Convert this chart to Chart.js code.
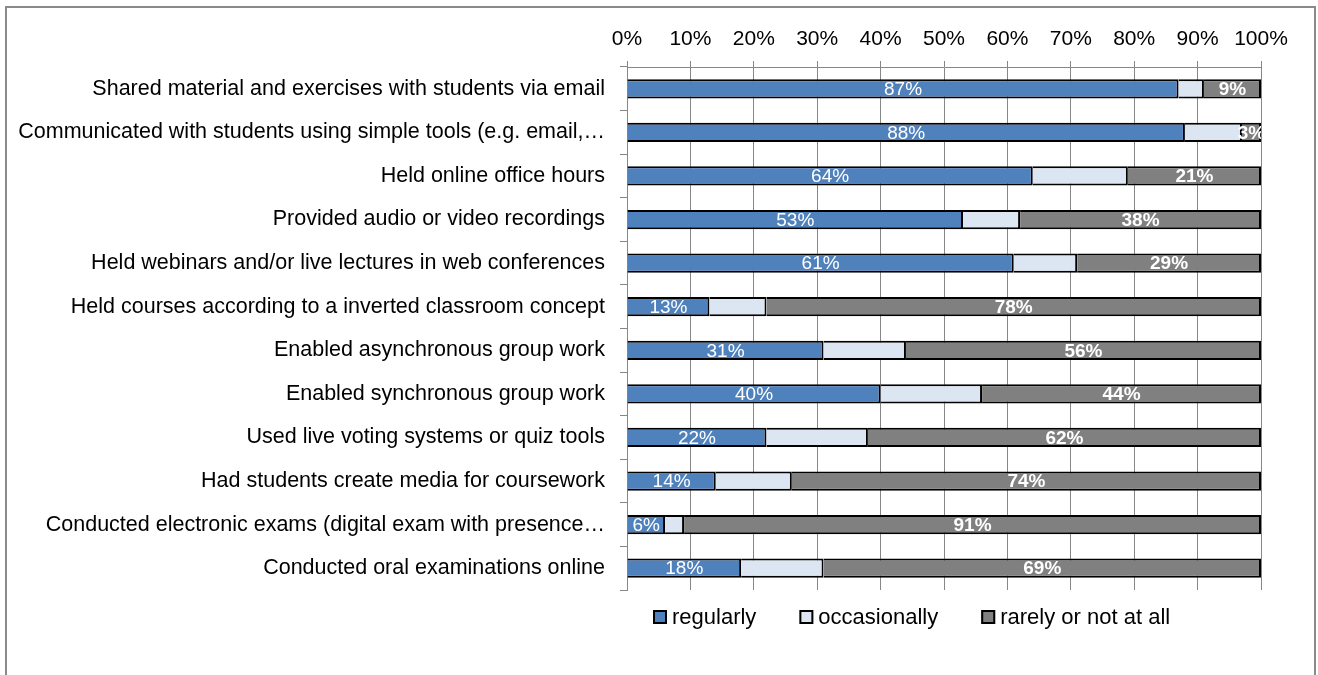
<!DOCTYPE html>
<html>
<head>
<meta charset="utf-8">
<script src="https://cdn.jsdelivr.net/npm/chart.js@4.4.1/dist/chart.umd.min.js"></script>
<style>
  html, body { margin: 0; padding: 0; background: #fff; overflow: hidden; }
  #frame {
    position: absolute; left: 5px; top: 6px; width: 1311px; height: 700px;
    box-sizing: border-box; border: 2px solid #8a8a8a; pointer-events: none;
  }
  #chart { position: absolute; left: 0; top: 0; }
</style>
</head>
<body>
<canvas id="chart" width="1318" height="675"></canvas>
<div id="frame"></div>
<script>
// Survey items (top to bottom)
const categories = [
    'Shared material and exercises with students via email',
    'Communicated with students using simple tools (e.g. email,\u2026',
    'Held online office hours',
    'Provided audio or video recordings',
    'Held webinars and/or live lectures in web conferences',
    'Held courses according to a inverted classroom concept',
    'Enabled asynchronous group work',
    'Enabled synchronous group work',
    'Used live voting systems or quiz tools',
    'Had students create media for coursework',
    'Conducted electronic exams (digital exam with presence\u2026',
    'Conducted oral examinations online'
];

// Shares in percent
const regularly    = [87, 88, 64, 53, 61, 13, 31, 40, 22, 14, 6, 18];
const occasionally = [4, 9, 15, 9, 10, 9, 13, 16, 16, 12, 3, 13];
const rarely       = [9, 3, 21, 38, 29, 78, 56, 44, 62, 74, 91, 69];

const seriesNames = ['regularly', 'occasionally', 'rarely or not at all'];
const xTicks = [0, 10, 20, 30, 40, 50, 60, 70, 80, 90, 100];

const FONT = 'Liberation Sans, Arial, sans-serif';
const gridColor = '#878787';

// % labels inside the blue and grey segments
const segmentLabels = {
    id: 'segmentLabels',
    afterDatasetsDraw(chart) {
        const ctx = chart.ctx;
        const area = chart.chartArea;
        ctx.save();
        ctx.beginPath();
        ctx.rect(area.left, area.top, area.right - area.left, area.bottom - area.top);
        ctx.clip();
        ctx.fillStyle = '#ffffff';
        ctx.textAlign = 'center';
        ctx.textBaseline = 'middle';
        [0, 2].forEach(di => {
            const meta = chart.getDatasetMeta(di);
            ctx.font = (di === 2 ? 'bold ' : '') + '19px ' + FONT;
            meta.data.forEach((bar, i) => {
                const v = chart.data.datasets[di].data[i];
                const cx = (bar.x + bar.base) / 2;
                ctx.fillText(v + '%', cx, bar.y + 1);
            });
        });
        ctx.restore();
    }
};

// legend under the plot, Excel-like spacing
const bottomLegend = {
    id: 'bottomLegend',
    afterDraw(chart) {
        const ctx = chart.ctx;
        const y = chart.chartArea.bottom + 27;
        let x = chart.chartArea.left + 26;
        ctx.save();
        ctx.font = '22px ' + FONT;
        ctx.textBaseline = 'middle';
        ctx.textAlign = 'left';
        chart.data.datasets.forEach(ds => {
            ctx.fillStyle = ds.backgroundColor;
            ctx.fillRect(x, y - 7, 14, 14);
            ctx.strokeStyle = '#000';
            ctx.lineWidth = 2;
            ctx.strokeRect(x + 1, y - 6, 12, 12);
            ctx.fillStyle = '#000';
            ctx.fillText(ds.label, x + 19, y + 1);
            x += 19 + ctx.measureText(ds.label).width + 43;
        });
        ctx.restore();
    }
};

const ctx = document.getElementById('chart').getContext('2d');
new Chart(ctx, {
    type: 'bar',
    data: {
        labels: categories,
        datasets: [
            { label: seriesNames[0], data: regularly, backgroundColor: '#4f81bd', borderColor: '#000000', borderWidth: 2 },
            { label: seriesNames[1], data: occasionally, backgroundColor: '#dce6f2', borderColor: '#000000', borderWidth: 2 },
            { label: seriesNames[2], data: rarely, backgroundColor: '#808080', borderColor: '#000000', borderWidth: 2 }
        ]
    },
    options: {
        indexAxis: 'y',
        responsive: false,
        animation: false,
        devicePixelRatio: 1,
        categoryPercentage: 1,
        barPercentage: 0.44,
        layout: { padding: { left: 0, right: 57, top: 0, bottom: 85 } },
        scales: {
            x: {
                position: 'top',
                stacked: true,
                min: 0,
                max: 100,
                afterBuildTicks: scale => { scale.ticks = xTicks.map(v => ({ value: v })); },
                afterFit: scale => { scale.height = 67; },
                ticks: {
                    callback: v => v + '%',
                    color: '#000',
                    font: { family: FONT, size: 21 },
                    padding: 9
                },
                grid: { color: gridColor, lineWidth: 1, tickLength: 6 },
                border: { color: gridColor, width: 1 }
            },
            y: {
                stacked: true,
                afterFit: scale => { scale.width = 627; },
                ticks: {
                    color: '#000',
                    font: { family: FONT, size: 21.5 },
                    padding: 15
                },
                grid: { drawOnChartArea: false, color: gridColor, tickLength: 7, offset: true },
                border: { color: gridColor, width: 1 }
            }
        },
        plugins: {
            legend: { display: false },
            tooltip: { enabled: false }
        }
    },
    plugins: [segmentLabels, bottomLegend]
});
</script>
</body>
</html>
